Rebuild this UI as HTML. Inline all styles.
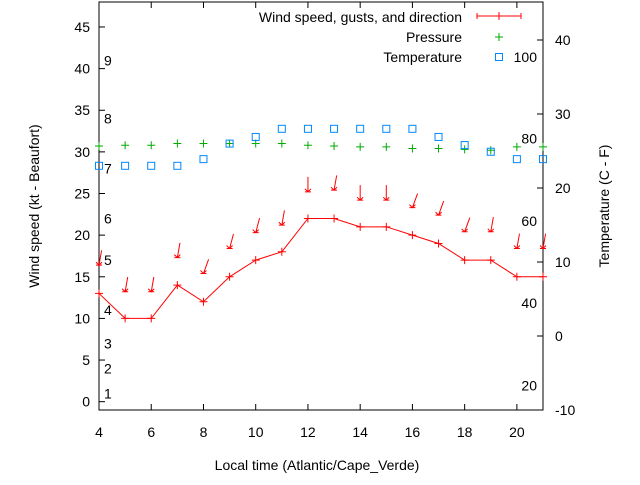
<!DOCTYPE html>
<html><head><meta charset="utf-8"><style>
body{margin:0;background:#fff;}
svg text{font-family:"Liberation Sans",sans-serif;font-size:14px;fill:#000;}
</style></head><body>
<svg id="c" width="640" height="480" xmlns="http://www.w3.org/2000/svg"></svg>
<script>
const hours=[4,5,6,7,8,9,10,11,12,13,14,15,16,17,18,19,20,21];
const windSpeed=[13,10,10,14,12,15,17,18,22,22,21,21,20,19,17,17,15,15];
const gusts=[16.4,13.2,13.2,17.3,15.4,18.4,20.3,21.2,25.2,25.4,24.2,24.2,23.3,22.4,20.4,20.4,18.4,18.4];
const direction=[10,10,10,10,20,15,15,10,0,10,0,0,20,20,20,10,10,10];
const pressure=[30.7,30.8,30.8,31.0,31.0,31.0,31.0,31.0,30.8,30.7,30.6,30.6,30.4,30.4,30.3,30.2,30.6,30.6];
const temperature=[23,23,23,23,23.9,26,26.9,28,28,28,28,28,28,26.9,25.8,24.9,23.9,23.9];
const xTicks=[4,6,8,10,12,14,16,18,20];
const yTicks=[0,5,10,15,20,25,30,35,40,45];
const y2Ticks=[-10,0,10,20,30,40];
const beaufort=[[1,1],[2,4],[3,7],[4,11],[5,17],[6,22],[7,28],[8,34],[9,41]];
const fahrenheit=[20,40,60,80];

const svg=document.getElementById('c');const NS='http://www.w3.org/2000/svg';
const L=99,R=543,T=2,B=410;
const X=v=>L+(v-4)*(R-L)/17;
const Y=v=>B-(v+1)*(B-T)/49;
const Y2=v=>B-(v+10)*7.4;
function mk(tag,at,txt){const e=document.createElementNS(NS,tag);for(const k in at)e.setAttribute(k,at[k]);if(txt!==undefined)e.textContent=txt;svg.appendChild(e);return e;}
let e;
e=mk('rect',{x:L,y:T,width:R-L,height:B-T,fill:'none',stroke:'#000','stroke-width':1});


xTicks.forEach(t=>{
 mk('line',{x1:X(t),x2:X(t),y1:B,y2:B-6,stroke:'#000'});
 mk('line',{x1:X(t),x2:X(t),y1:T,y2:T+6,stroke:'#000'});
 e=mk('text',{x:X(t),y:437,'text-anchor':'middle'},t);
 
 
});
yTicks.forEach(t=>{
 mk('line',{x1:L,x2:L+6,y1:Y(t),y2:Y(t),stroke:'#000'});
 e=mk('text',{x:L-9,y:Y(t)+5,'text-anchor':'end'},t);
 
 
});
y2Ticks.forEach(t=>{
 mk('line',{x1:R,x2:R-6,y1:Y2(t),y2:Y2(t),stroke:'#000'});
 e=mk('text',{x:R+12,y:Y2(t)+5,'text-anchor':'start'},t);
 
 
});
beaufort.forEach(b=>{
 e=mk('text',{x:104,y:Y(b[1])+5},b[0]);
 
 
});
fahrenheit.forEach(f=>{
 e=mk('text',{x:537,y:Y2((f-32)*5/9)+5,'text-anchor':'end'},f);
 
 
});
e=mk('text',{x:317,y:470,'text-anchor':'middle'},'Local time (Atlantic/Cape_Verde)');


e=mk('text',{x:0,y:0,'text-anchor':'middle',transform:'translate(39,206) rotate(-90)'},'Wind speed (kt - Beaufort)');


e=mk('text',{x:0,y:0,'text-anchor':'middle',transform:'translate(609,206) rotate(-90)'},'Temperature (C - F)');


// wind line
e=mk('polyline',{points:hours.map((h,i)=>X(h)+','+Y(windSpeed[i])).join(' '),fill:'none',stroke:'#f00'});


hours.forEach((h,i)=>{
 const x=X(h),y=Y(windSpeed[i]);
 e=mk('path',{d:`M${x-4},${y}H${x+4}M${x},${y-4}V${y+4}`,stroke:'#f00'});
 
 
 const gx=X(h),gy=Y(gusts[i]);const a=direction[i]*Math.PI/180;
 const tx=gx+15*Math.sin(a),ty=gy-15*Math.cos(a);
 e=mk('path',{d:`M${tx},${ty}L${gx},${gy}M${gx-3},${gy-3}L${gx},${gy}L${gx+3},${gy-3}M${gx-3},${gy}H${gx+3}`,stroke:'#f00',fill:'none'});
 
 
 const px=X(h),py=Y(pressure[i]);
 e=mk('path',{d:`M${px-4},${py}H${px+4}M${px},${py-4}V${py+4}`,stroke:'#0a0'});
 
 
 e=mk('rect',{x:X(h)-3.5,y:Y2(temperature[i])-3.5,width:7,height:7,fill:'none',stroke:'#08f'});
 
 
});
// legend
e=mk('text',{x:462,y:22,'text-anchor':'end'},'Wind speed, gusts, and direction');


mk('path',{d:'M477,16H521M477,13V19M499,12V20M521,13V19',stroke:'#f00'});
e=mk('text',{x:462,y:42,'text-anchor':'end'},'Pressure');


mk('path',{d:'M495,37H503M499,33V41',stroke:'#0a0'});
e=mk('text',{x:462,y:62,'text-anchor':'end'},'Temperature');


mk('rect',{x:495.5,y:53.5,width:7,height:7,fill:'none',stroke:'#08f'});
e=mk('text',{x:537,y:62,'text-anchor':'end'},'100');


</script>
</body></html>
